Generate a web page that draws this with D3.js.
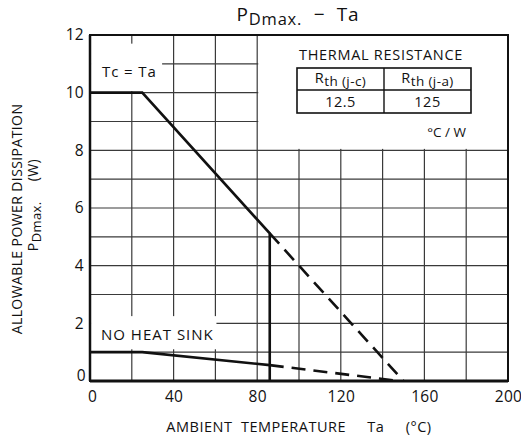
<!DOCTYPE html>
<html>
<head>
<meta charset="utf-8">
<script src="https://cdn.jsdelivr.net/npm/d3@7"></script>
<style>
  body { margin: 0; background: #fff; }
  text { font-family: "Open Sans", "Noto Sans", sans-serif; fill: #111; }
</style>
</head>
<body>
<div id="chart"></div>
<script>
// values
const xTicks = [0, 40, 80, 120, 160, 200];
const yTicks = [0, 2, 4, 6, 8, 10, 12];
const xGrid = [20, 40, 60, 80, 100, 120, 140, 160, 180];
const yGrid = [1, 2, 3, 4, 5, 6, 7, 8, 9, 10, 11];

// Tc = Ta curve (infinite heat sink)
const tcSolid = [[0, 10], [25, 10], [86, 5.12], [86, 0]];
const tcDashed = [[86, 5.12], [150, 0]];
// no heat sink curve
const noSinkSolid = [[0, 1], [25, 1], [86, 0.55]];
const noSinkDashed = [[86, 0.55], [148, 0]];

const thermalHeads = ["j-c", "j-a"];
const thermalValues = ["12.5", "125"];

const width = 521;
const height = 443;
const margin = { top: 35, right: 13, bottom: 62, left: 90 };

const svg = d3.select("#chart")
    .append("svg")
    .attr("width", width)
    .attr("height", height);

const x = d3.scaleLinear().domain([0, 200]).range([margin.left, width - margin.right]);
const y = d3.scaleLinear().domain([0, 12]).range([height - margin.bottom, margin.top]);

// grid
svg.append("g")
  .selectAll("line")
  .data(xGrid)
  .enter().append("line")
    .attr("x1", d => x(d)).attr("x2", d => x(d))
    .attr("y1", y(0)).attr("y2", y(12))
    .attr("stroke", "#3a3a3a").attr("stroke-width", 1.2);

svg.append("g")
  .selectAll("line")
  .data(yGrid)
  .enter().append("line")
    .attr("x1", x(0)).attr("x2", x(200))
    .attr("y1", d => y(d)).attr("y2", d => y(d))
    .attr("stroke", "#3a3a3a").attr("stroke-width", 1.2);

// white patches behind the labels (cover the grid like the original)
function mask(x0, x1, y0, y1) {
  svg.append("rect")
    .attr("x", x(x0)).attr("y", y(y1))
    .attr("width", x(x1) - x(x0)).attr("height", y(y0) - y(y1))
    .attr("fill", "#fff");
}
mask(80.5, 200, 8.05, 12);
mask(0.5, 34.5, 10.05, 11.7);
mask(0.5, 60.5, 1.1, 2.25);

// frame
svg.append("rect")
    .attr("x", x(0)).attr("y", y(12))
    .attr("width", x(200) - x(0)).attr("height", y(0) - y(12))
    .attr("fill", "none").attr("stroke", "#111").attr("stroke-width", 2);
svg.append("line")
    .attr("x1", x(0)).attr("x2", x(0)).attr("y1", y(0)).attr("y2", y(12))
    .attr("stroke", "#111").attr("stroke-width", 2.5);
svg.append("line")
    .attr("x1", x(0)).attr("x2", x(200)).attr("y1", y(0)).attr("y2", y(0))
    .attr("stroke", "#111").attr("stroke-width", 3);

// axes (labels only)
const xAxis = svg.append("g")
    .attr("transform", `translate(0,${y(0)})`)
    .call(d3.axisBottom(x).tickValues(xTicks).tickSize(0).tickPadding(10).tickFormat(d3.format("d")));
const yAxis = svg.append("g")
    .attr("transform", `translate(${x(0)},0)`)
    .call(d3.axisLeft(y).tickValues(yTicks).tickSize(0).tickPadding(6).tickFormat(d3.format("d")));
[xAxis, yAxis].forEach(a => {
  a.select(".domain").remove();
  a.selectAll("text").style("font-size", "15.5px").style("letter-spacing", "0.3px").attr("fill", "#111");
});
yAxis.selectAll(".tick").filter(d => d === 0).select("text").attr("dy", "-0.05em").attr("x", -4);
xAxis.selectAll(".tick").filter(d => d === 0).select("text").attr("dx", "2");

// curves
const line = d3.line().x(d => x(d[0])).y(d => y(d[1]));
[tcSolid, noSinkSolid].forEach(pts => {
  svg.append("path").attr("d", line(pts))
    .attr("fill", "none").attr("stroke", "#111").attr("stroke-width", 2.6)
    .attr("stroke-linejoin", "miter");
});
[tcDashed, noSinkDashed].forEach(pts => {
  svg.append("path").attr("d", line(pts))
    .attr("fill", "none").attr("stroke", "#111").attr("stroke-width", 2.6)
    .attr("stroke-dasharray", "14,8");
});

// curve labels
svg.append("text").attr("x", 102).attr("y", 77)
    .style("font-size", "15px").style("letter-spacing", "0.9px").text("Tc = Ta");
svg.append("text").attr("x", 101).attr("y", 340)
    .style("font-size", "15px").style("letter-spacing", "1px").text("NO HEAT SINK");

// thermal resistance table
const tbl = { x: 297, y: 68, w: 174, h1: 22, h2: 23 };
svg.append("text").attr("x", tbl.x + 2).attr("y", 60)
    .style("font-size", "14.5px").style("letter-spacing", "0.7px").text("THERMAL  RESISTANCE");
svg.append("rect")
    .attr("x", tbl.x).attr("y", tbl.y).attr("width", tbl.w).attr("height", tbl.h1 + tbl.h2)
    .attr("fill", "none").attr("stroke", "#111").attr("stroke-width", 1.6);
svg.append("line")
    .attr("x1", tbl.x).attr("x2", tbl.x + tbl.w).attr("y1", tbl.y + tbl.h1).attr("y2", tbl.y + tbl.h1)
    .attr("stroke", "#111").attr("stroke-width", 1.4);
svg.append("line")
    .attr("x1", tbl.x + tbl.w / 2).attr("x2", tbl.x + tbl.w / 2).attr("y1", tbl.y).attr("y2", tbl.y + tbl.h1 + tbl.h2)
    .attr("stroke", "#111").attr("stroke-width", 1.4);
thermalHeads.forEach((h, i) => {
  const t = svg.append("text")
      .attr("x", tbl.x + tbl.w / 4 + i * tbl.w / 2).attr("y", tbl.y + 15)
      .attr("text-anchor", "middle").style("font-size", "14.5px").style("letter-spacing", "0.4px");
  t.append("tspan").text("R");
  t.append("tspan").attr("dy", 3).style("font-size", "13.5px").text(`th (${h})`);
});
thermalValues.forEach((v, i) => {
  svg.append("text")
      .attr("x", tbl.x + tbl.w / 4 + i * tbl.w / 2).attr("y", tbl.y + tbl.h1 + 17)
      .attr("text-anchor", "middle").style("font-size", "14.5px").style("letter-spacing", "0.5px").text(v);
});
svg.append("text").attr("x", 466).attr("y", 137).attr("text-anchor", "end")
    .style("font-size", "13.5px").text("°C / W");

// title
const title = svg.append("text").attr("x", 298).attr("y", 21)
    .attr("text-anchor", "middle").style("font-size", "19px").style("letter-spacing", "0.8px");
title.append("tspan").text("P");
title.append("tspan").attr("dy", 4).style("font-size", "16.5px").text("Dmax.");
title.append("tspan").attr("dy", -4).attr("xml:space", "preserve").text("  −  Ta");

// axis titles
svg.append("text").attr("x", 299).attr("y", 432)
    .attr("text-anchor", "middle").attr("xml:space", "preserve")
    .style("font-size", "14.5px").style("letter-spacing", "0.5px")
    .text("AMBIENT  TEMPERATURE     Ta     (°C)");

svg.append("text")
    .attr("transform", "translate(22,219) rotate(-90)")
    .attr("text-anchor", "middle").style("font-size", "14px").style("letter-spacing", "0.4px")
    .text("ALLOWABLE POWER DISSIPATION");
const yl2 = svg.append("text")
    .attr("transform", "translate(38,205) rotate(-90)")
    .attr("text-anchor", "middle").attr("xml:space", "preserve")
    .style("font-size", "14px").style("letter-spacing", "0.4px");
yl2.append("tspan").text("P");
yl2.append("tspan").attr("dy", 3).style("font-size", "13px").text("Dmax.");
yl2.append("tspan").attr("dy", -3).text("     (W)");
</script>
</body>
</html>
